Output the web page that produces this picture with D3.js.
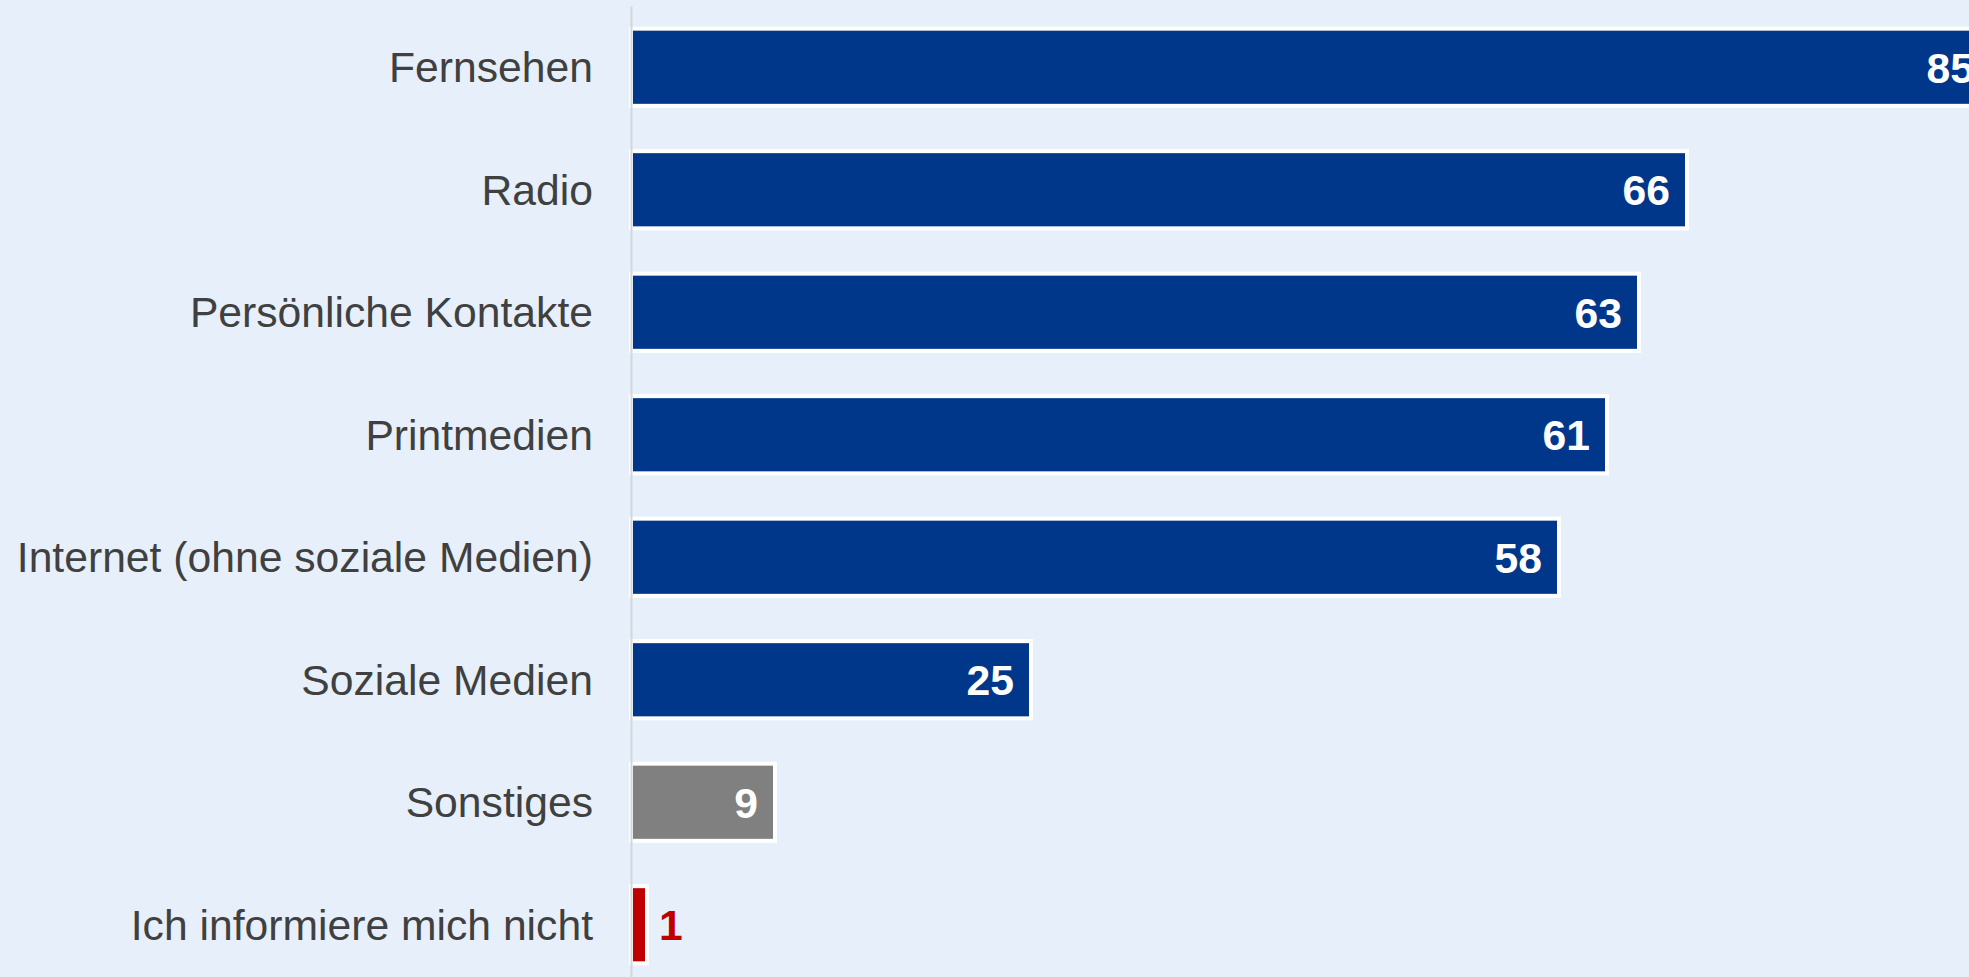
<!DOCTYPE html>
<html>
<head>
<meta charset="utf-8">
<script src="https://cdn.jsdelivr.net/npm/d3@7"></script>
<style>
  html, body { margin: 0; padding: 0; background: #e7f0fa; overflow: hidden; }
  svg { display: block; font-family: "Liberation Sans", Arial, sans-serif; }
  .axis path { stroke: #d3d6da; stroke-width: 2; }
  .axis text { fill: #404040; font-size: 42.67px; font-family: "Liberation Sans", Arial, sans-serif; }
</style>
</head>
<body>
<div id="chart"></div>
<script>
  // data (percent)
  const categories = ["Fernsehen", "Radio", "Persönliche Kontakte", "Printmedien",
    "Internet (ohne soziale Medien)", "Soziale Medien", "Sonstiges", "Ich informiere mich nicht"];
  const values = [85, 66, 63, 61, 58, 25, 9, 1];
  const colors = ["#00378a", "#00378a", "#00378a", "#00378a", "#00378a", "#00378a", "#808080", "#c00000"];

  const data = categories.map((c, i) => ({name: c, value: values[i], color: colors[i]}));

  const svgWidth = 1969, svgHeight = 977;

  const svg = d3.select("#chart").append("svg")
    .attr("width", svgWidth)
    .attr("height", svgHeight);

  svg.append("rect")
    .attr("width", svgWidth).attr("height", svgHeight)
    .attr("fill", "#e7f0fa");

  const x = d3.scaleLinear().domain([0, 85]).range([631, 1991]);
  const y = d3.scaleBand()
    .domain(categories)
    .range([6, 986])
    .paddingInner(0.37)
    .paddingOuter(0.185);

  // bars
  svg.selectAll(".bar")
    .data(data)
    .enter().append("rect")
      .attr("class", "bar")
      .attr("x", x(0))
      .attr("y", d => y(d.name))
      .attr("width", d => x(d.value) - x(0))
      .attr("height", y.bandwidth())
      .attr("fill", d => d.color)
      .attr("stroke", "#ffffff")
      .attr("stroke-width", 4);

  // value labels: inside for wide bars, outside for the tiny one
  svg.selectAll(".val")
    .data(data)
    .enter().append("text")
      .attr("class", "val")
      .attr("x", d => d.value > 5 ? x(d.value) - 17 : x(d.value) + 12)
      .attr("y", d => y(d.name) + y.bandwidth() / 2)
      .attr("dy", "0.36em")
      .attr("text-anchor", d => d.value > 5 ? "end" : "start")
      .attr("fill", d => d.value > 5 ? "#ffffff" : d.color)
      .style("font-size", "42.67px")
      .style("font-weight", "bold")
      .text(d => d.value);

  // category axis on top so the line shows over the bar edges
  svg.append("g")
    .attr("class", "axis")
    .attr("transform", "translate(631,0)")
    .call(d3.axisLeft(y).tickSize(0).tickSizeOuter(0).tickPadding(38))
    .call(g => g.selectAll("text").attr("dy", "0.35em"));
</script>
</body>
</html>
